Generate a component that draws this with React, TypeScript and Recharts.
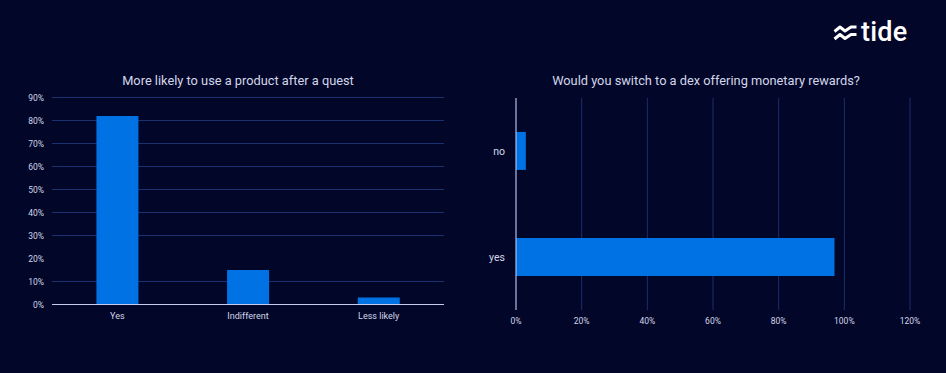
import React from "react";
import { Bar, BarChart, CartesianGrid, XAxis, YAxis } from "recharts";

const questCategories = ["Yes", "Indifferent", "Less likely"];
const questValues = [82, 15, 3];
const questTicks = [0, 10, 20, 30, 40, 50, 60, 70, 80, 90];

const dexCategories = ["no", "yes"];
const dexValues = [3, 97];
const dexTicks = [0, 20, 40, 60, 80, 100, 120];

const BG = "#020628";
const GRID = "#1a2f6e";
const BAR = "#0172e4";
const AXIS = "#c8cbef";
const TEXT = "#d3d6ea";
const FONT = "Roboto, 'Liberation Sans', Arial, sans-serif";

const questData = questCategories.map((name, i) => ({ name, value: questValues[i] }));
const dexData = dexCategories.map((name, i) => ({ name, value: dexValues[i] }));

const pct = (v: number) => `${v}%`;

function Logo() {
  return (
    <div style={{ position: "absolute", left: 833, top: 19, display: "flex", alignItems: "center" }}>
      <svg width={25} height={16} viewBox="0 0 25 16">
        <polyline points="1.5,6.5 7,2 12,6 18,2 23.5,2" fill="none" stroke="#fff" strokeWidth={3} strokeLinejoin="round" />
        <polyline points="1.5,14 7,9.5 12,13.5 18,9.5 23.5,9.5" fill="none" stroke="#fff" strokeWidth={3} strokeLinejoin="round" />
      </svg>
      <span style={{ color: "#fff", fontFamily: FONT, fontSize: 27, fontWeight: 500, marginLeft: 3, lineHeight: "27px", letterSpacing: 0.2 }}>
        tide
      </span>
    </div>
  );
}

export default function App() {
  const title: React.CSSProperties = {
    position: "absolute",
    top: 73,
    color: TEXT,
    fontFamily: FONT,
    fontSize: 12.8,
    textAlign: "center",
    whiteSpace: "nowrap",
  };
  return (
    <div style={{ position: "absolute", left: 0, top: 0, width: 946, height: 373, background: BG, overflow: "hidden" }}>
      <Logo />
      <div style={{ ...title, left: 0, width: 476 }}>More likely to use a product after a quest</div>
      <div style={{ ...title, left: 470, width: 472 }}>Would you switch to a dex offering monetary rewards?</div>

      <div style={{ position: "absolute", left: 0, top: 0 }}>
        <BarChart
          width={470}
          height={373}
          data={questData}
          margin={{ top: 97.5, right: 26, bottom: 38.5, left: 12 }}
          barCategoryGap="34%"
          style={{ fontFamily: FONT }}
        >
          <CartesianGrid vertical={false} stroke={GRID} strokeWidth={1} />
          <XAxis
            dataKey="name"
            axisLine={{ stroke: AXIS }}
            tickLine={false}
            height={30}
            tick={{ fontSize: 9, fill: TEXT }}
          />
          <YAxis
            type="number"
            domain={[0, 90]}
            ticks={questTicks}
            tickFormatter={pct}
            axisLine={false}
            tickLine={false}
            width={40}
            tick={{ fontSize: 8.5, fill: TEXT }}
          />
          <Bar dataKey="value" fill={BAR} isAnimationActive={false} />
        </BarChart>
      </div>

      <div style={{ position: "absolute", left: 470, top: 0 }}>
        <BarChart
          width={476}
          height={373}
          data={dexData}
          layout="vertical"
          margin={{ top: 98, right: 36, bottom: 43, left: 6 }}
          barCategoryGap="32%"
          style={{ fontFamily: FONT }}
        >
          <CartesianGrid horizontal={false} stroke={GRID} strokeWidth={1} />
          <XAxis
            type="number"
            domain={[0, 120]}
            ticks={dexTicks}
            tickFormatter={pct}
            axisLine={false}
            tickLine={false}
            height={20}
            tick={{ fontSize: 8.5, fill: TEXT }}
          />
          <YAxis
            type="category"
            dataKey="name"
            axisLine={{ stroke: AXIS }}
            tickLine={false}
            tickMargin={5}
            width={40}
            tick={{ fontSize: 10.5, fill: TEXT }}
          />
          <Bar dataKey="value" fill={BAR} isAnimationActive={false} />
        </BarChart>
      </div>
    </div>
  );
}
